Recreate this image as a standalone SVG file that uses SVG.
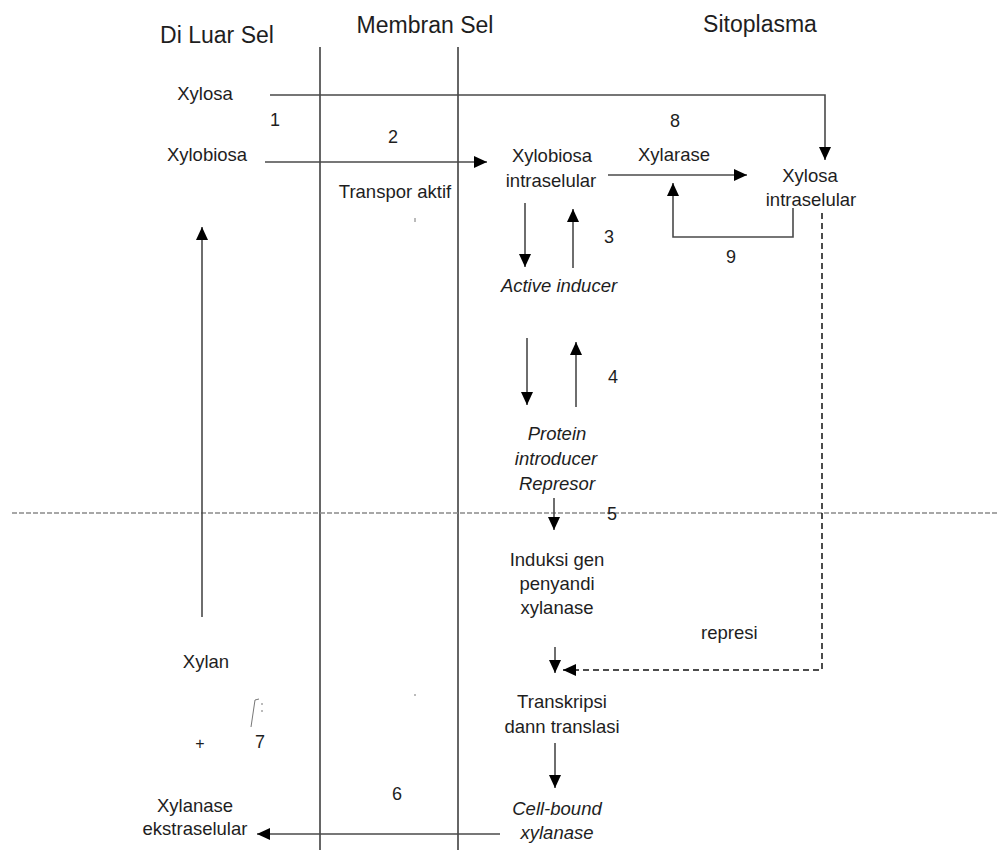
<svg xmlns="http://www.w3.org/2000/svg" width="999" height="850" viewBox="0 0 999 850">
<style>
text{font-family:"Liberation Sans",Arial,sans-serif;fill:#1e1e1e;font-size:18.5px}
.t{font-size:23px}
.n{font-size:18px}
.c{text-anchor:middle}
.i{font-style:italic}
.ln{fill:none;stroke:#4a4a4a;stroke-width:1.6}
.mb{fill:none;stroke:#333;stroke-width:1.5}
.dl{fill:none;stroke:#8a8a8a;stroke-width:1.3;stroke-dasharray:5 2}
.ds{fill:none;stroke:#111;stroke-width:1.5;stroke-dasharray:6 4}
</style>
<defs>
<marker id="ah" markerUnits="userSpaceOnUse" markerWidth="14" markerHeight="12" refX="13" refY="6" orient="auto">
<path d="M0,0 L13,6 L0,12 z" fill="#000"/>
</marker>
</defs>
<rect width="999" height="850" fill="#fff"/>
<g id="regions">
<path class="mb" d="M320,47 V850"/>
<path class="mb" d="M458,47 V850"/>
<path class="dl" d="M12,513 H999"/>
<text class="t c" x="217" y="43">Di Luar Sel</text>
<text class="t c" x="425" y="33">Membran Sel</text>
<text class="t c" x="760" y="32">Sitoplasma</text>
</g>
<g id="connectors">
<path class="ln" d="M270,95 H825 V160" marker-end="url(#ah)"/>
<path class="ln" d="M265,162 H487" marker-end="url(#ah)"/>
<path class="ln" d="M608,175 H747" marker-end="url(#ah)"/>
<path class="ln" d="M793,208 V237 H673 V183" marker-end="url(#ah)"/>
<path class="ln" d="M525,203 V267" marker-end="url(#ah)"/>
<path class="ln" d="M573,268 V209" marker-end="url(#ah)"/>
<path class="ln" d="M527,338 V405" marker-end="url(#ah)"/>
<path class="ln" d="M576,407 V342" marker-end="url(#ah)"/>
<path class="ln" d="M554,498 V530" marker-end="url(#ah)"/>
<path class="ln" d="M555,647 V673" marker-end="url(#ah)"/>
<path class="ds" d="M822,213 V670 H563" marker-end="url(#ah)"/>
<path class="ln" d="M555,743 V788" marker-end="url(#ah)"/>
<path class="ln" d="M500,834 H257" marker-end="url(#ah)"/>
<path class="ln" d="M202,617 V227" marker-end="url(#ah)"/>
</g>
<g id="xylosa"><text class="c" x="205" y="100">Xylosa</text></g>
<g id="xylobiosa"><text class="c" x="207" y="161">Xylobiosa</text></g>
<g id="label1"><text class="n" x="270" y="126">1</text></g>
<g id="label2"><text class="n c" x="393" y="143">2</text></g>
<g id="transpor"><text class="c" x="395" y="198">Transpor aktif</text></g>
<g id="xylobiosa-intra"><text class="c" x="552" y="162">Xylobiosa</text><text class="c" x="551" y="187">intraselular</text></g>
<g id="label8"><text class="n c" x="675" y="127">8</text></g>
<g id="xylarase"><text class="c" x="674" y="161">Xylarase</text></g>
<g id="xylosa-intra"><text class="c" x="810" y="182">Xylosa</text><text class="c" x="811" y="206">intraselular</text></g>
<g id="label3"><text class="n" x="604" y="243">3</text></g>
<g id="label9"><text class="n" x="726" y="263">9</text></g>
<g id="active-inducer"><text class="c i" x="559" y="292">Active inducer</text></g>
<g id="label4"><text class="n" x="608" y="383">4</text></g>
<g id="protein"><text class="c i" x="557" y="440">Protein</text><text class="c i" x="556" y="465">introducer</text><text class="c i" x="557" y="490">Represor</text></g>
<g id="label5"><text class="n" x="607" y="520">5</text></g>
<g id="induksi"><text class="c" x="557" y="566">Induksi gen</text><text class="c" x="557" y="590">penyandi</text><text class="c" x="557" y="614">xylanase</text></g>
<g id="represi"><text x="701" y="639">represi</text></g>
<g id="transkripsi"><text class="c" x="562" y="708">Transkripsi</text><text class="c" x="562" y="733">dann translasi</text></g>
<g id="cell-bound"><text class="c i" x="557" y="815">Cell-bound</text><text class="c i" x="557" y="839">xylanase</text></g>
<g id="xylan"><text class="c" x="206" y="668">Xylan</text></g>
<g id="plus"><text class="c" x="200" y="749" style="font-size:16px">+</text></g>
<g id="label7"><text class="n" x="255" y="748">7</text></g>
<g id="label6"><text class="n" x="392" y="800">6</text></g>
<g id="xylanase-ekstra"><text class="c" x="195" y="812">Xylanase</text><text class="c" x="195" y="835">ekstraselular</text></g>
<g id="marks" fill="none" stroke="#777" stroke-width="1">
<path d="M255,700 L251,727 M255,700 L259,699"/>
<path d="M262,703 V705 M262,710 V712"/>
<path d="M415,218 V222"/>
<path d="M414,695 H416"/>
</g>
</svg>
